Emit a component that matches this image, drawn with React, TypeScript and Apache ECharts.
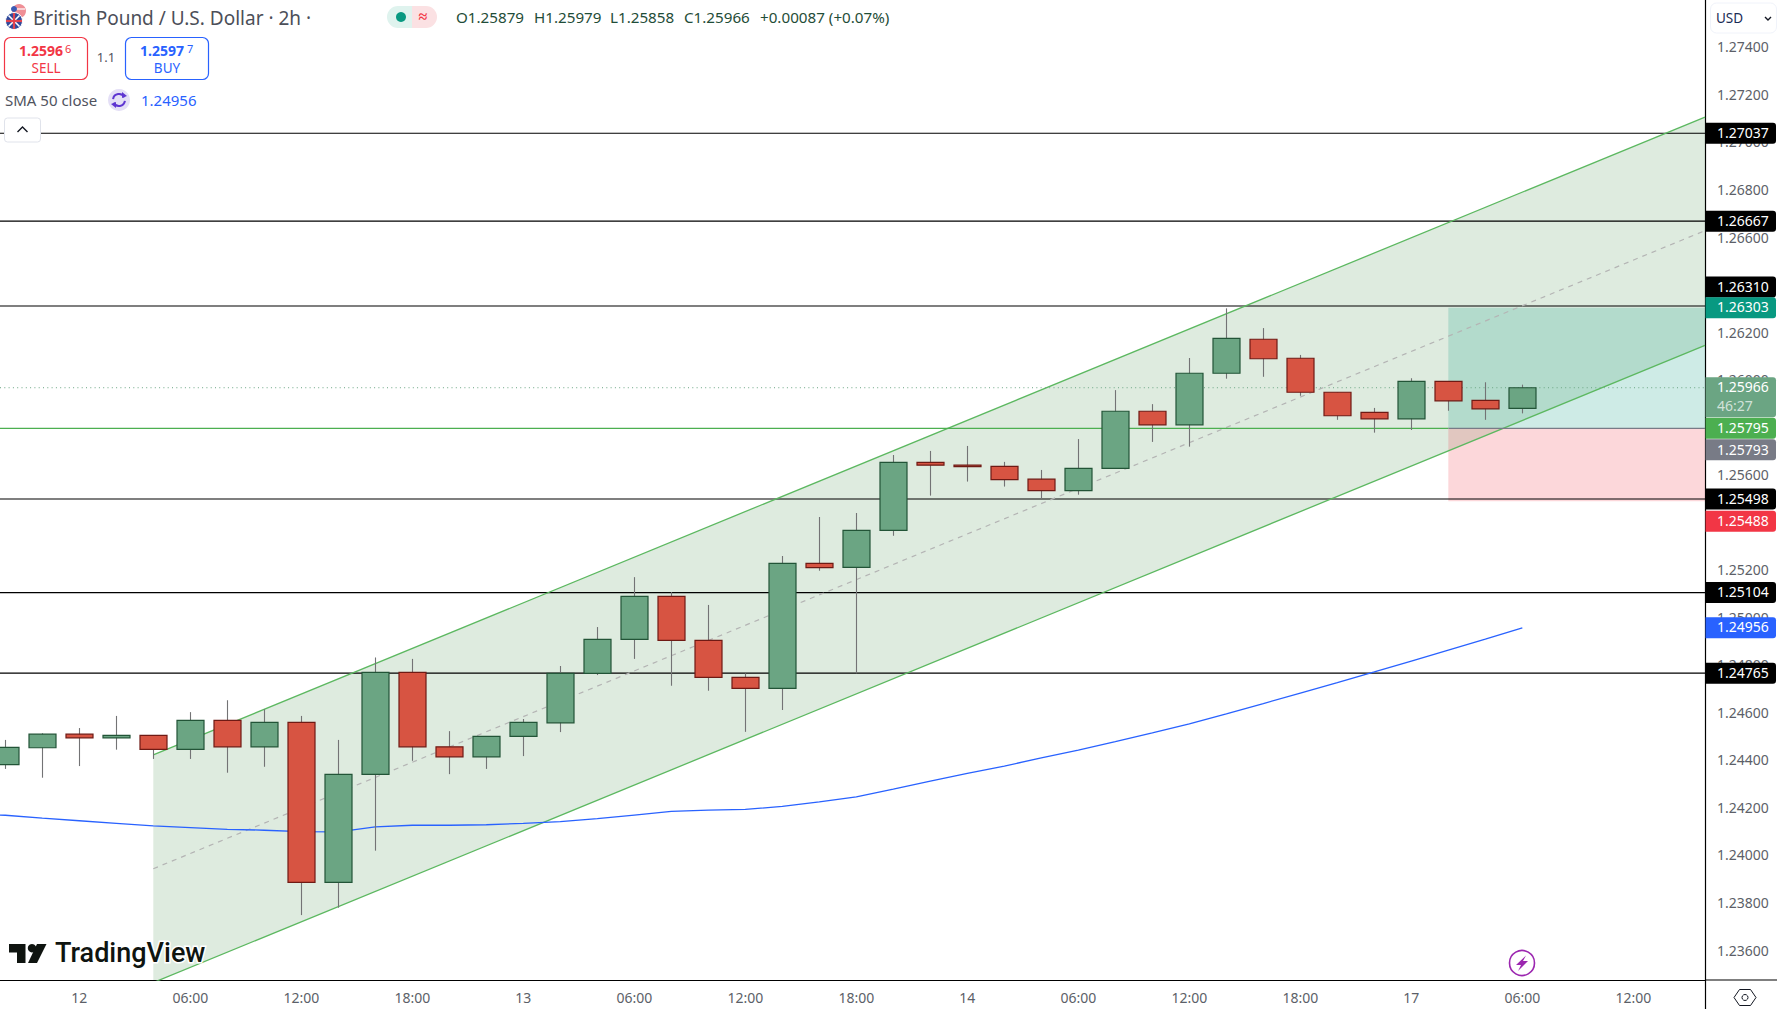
import React, { useEffect, useRef } from "react";
import * as echarts from "echarts";

// ---------- data ----------
const opens = [1.2438,1.24451,1.24508,1.24493,1.24503,1.24444,1.24566,1.24455,1.24558,1.23885,1.24339,1.24768,1.24455,1.24413,1.24499,1.24556,1.24764,1.24907,1.25088,1.24903,1.24747,1.24701,1.25227,1.2521,1.25366,1.25652,1.2564,1.25635,1.25581,1.25533,1.25627,1.25867,1.2581,1.26027,1.2617,1.2609,1.25947,1.25862,1.25835,1.25993,1.25913,1.25879];
const closes = [1.24453,1.24508,1.24493,1.24503,1.24444,1.24566,1.24455,1.24558,1.23885,1.24339,1.24768,1.24455,1.24413,1.24499,1.24558,1.24764,1.24907,1.25088,1.24903,1.24747,1.24701,1.25227,1.25209,1.25366,1.25652,1.2564,1.25634,1.25579,1.25533,1.25627,1.25867,1.2581,1.26027,1.26174,1.26088,1.25947,1.25848,1.25835,1.25993,1.25911,1.25877,1.25966];
const lows = [1.24362,1.24325,1.24374,1.24443,1.24404,1.24404,1.24346,1.24371,1.23747,1.23778,1.24018,1.24396,1.2434,1.24362,1.24416,1.24517,1.24757,1.24825,1.24712,1.24691,1.24518,1.2461,1.25196,1.24764,1.25343,1.25512,1.25571,1.2555,1.25497,1.25516,1.25627,1.25738,1.25718,1.26004,1.26012,1.25932,1.25831,1.25777,1.25788,1.25869,1.25831,1.25858];
const highs = [1.24484,1.24512,1.24534,1.24585,1.24504,1.24601,1.24651,1.24613,1.24585,1.24484,1.24831,1.24825,1.24521,1.245,1.24572,1.24795,1.24959,1.25169,1.25106,1.25052,1.24764,1.25258,1.25422,1.25439,1.25683,1.257,1.25721,1.25654,1.2562,1.2575,1.25956,1.25897,1.26091,1.263,1.26217,1.26104,1.25947,1.25881,1.26006,1.25993,1.25989,1.25979];
// SMA 50: first value belongs to the bar before the first visible one
const smaValues = [1.2417,1.24167,1.24155,1.24144,1.24133,1.24122,1.24115,1.24108,1.24104,1.24098,1.24097,1.24118,1.24125,1.24125,1.24127,1.24133,1.2414,1.24153,1.24168,1.24183,1.24189,1.24192,1.24204,1.24223,1.24244,1.24277,1.24311,1.24343,1.24374,1.24408,1.24441,1.24477,1.24514,1.24552,1.24594,1.24637,1.24681,1.24725,1.2477,1.24816,1.24862,1.24908,1.24956];
const levels = [1.27037,1.26667,1.2631,1.25498,1.25104,1.24765];
const channelXs = [4, 45.937];
const channelUpper = [1.24421,1.27105];
const channelMiddle = [1.23942,1.26627];
const channelLower = [1.23463,1.26144];
const positionX = 39;
const positionTarget = 1.26303;
const positionEntry = 1.25795;
const positionStop = 1.25488;
const lastPrice = 1.25966;
const yTicks = [1.236,1.238,1.24,1.242,1.244,1.246,1.248,1.25,1.252,1.254,1.256,1.258,1.26,1.262,1.264,1.266,1.268,1.27,1.272,1.274];
const xTickIndex = [2,5,8,11,14,17,20,23,26,29,32,35,38,41,44];
const xTickText = ["12","06:00","12:00","18:00","13","06:00","12:00","18:00","14","06:00","12:00","18:00","17","06:00","12:00"];
const tagValues = [1.27037,1.26667,1.2631,1.26303,1.25966,1.25795,1.25793,1.25498,1.25488,1.25104,1.24956,1.24765];
const ohlcTexts = ["O1.25879","H1.25979","L1.25858","C1.25966","+0.00087 (+0.07%)"];

// ---------- styles ----------
const FONT = "'Noto Sans'";
const UP = "#6ba583", UP_B = "#225437", DOWN = "#d75442", DOWN_B = "#6f1a14", WICK = "#737375";
const tagColors = ["#000","#000","#000","#089981","#6ba583","#4caf50","#787b86","#000","#f23645","#000","#2962ff","#000"];
const tagNudge = [0,0,-19,0,0,0,21,0,20,0,0,0];
const ohlcLeft = [456, 534, 610, 684, 760];
const xMin = -0.1432, xMax = 45.937, yMin = 1.234738, yMax = 1.275975;

const hline = (name: string, v: number, color: string, from = xMin, to = xMax, extra: any = {}, z = 3) => ({
  type: "line", name, silent: true, symbol: "none", showSymbol: false, z,
  data: [[from, v], [to, v]],
  lineStyle: { color, width: 1.1, ...extra },
  emphasis: { disabled: true },
});
const slant = (name: string, ys: number[], color: string, extra: any = {}) => ({
  type: "line", name, silent: true, symbol: "none", showSymbol: false, z: 3,
  data: channelXs.map((x, i) => [x, ys[i]]),
  lineStyle: { color, width: 1.3, ...extra },
  emphasis: { disabled: true },
});

const txt = (text: string, x: number, y: number, font: string, fill: string, align = "left", extra: any = {}) => ({
  type: "text", x, y, z: 100, silent: true,
  style: { text, font, fill, align, verticalAlign: "middle", ...extra },
});

function buildOption() {
  const candleData = opens.map((o, i) => [i, o, closes[i], lows[i], highs[i]]);
  const graphicEls: any[] = [
    // extended axis frame
    { type: "line", z: 100, silent: true, shape: { x1: 1705, y1: 980, x2: 1777, y2: 980 }, style: { stroke: "#000", lineWidth: 1.2 } },
    { type: "line", z: 100, silent: true, shape: { x1: 1705.5, y1: 980, x2: 1705.5, y2: 1009 }, style: { stroke: "#000", lineWidth: 1.2 } },
    // flag
    { type: "circle", z: 100, silent: true, shape: { cx: 19, cy: 11, r: 7 }, style: { fill: "#ef8f96" } },
    { type: "line", z: 100, silent: true, shape: { x1: 15, y1: 9, x2: 25, y2: 9 }, style: { stroke: "#fff", lineWidth: 1.2 } },
    { type: "circle", z: 100, silent: true, shape: { cx: 14, cy: 9, r: 3 }, style: { fill: "#3b5bb5" } },
    { type: "circle", z: 100, silent: true, shape: { cx: 14, cy: 21, r: 8.5 }, style: { fill: "#2f4a9c", stroke: "#fff", lineWidth: 1 } },
    { type: "line", z: 100, silent: true, shape: { x1: 8.5, y1: 15.5, x2: 19.5, y2: 26.5 }, style: { stroke: "#fff", lineWidth: 1.6 } },
    { type: "line", z: 100, silent: true, shape: { x1: 19.5, y1: 15.5, x2: 8.5, y2: 26.5 }, style: { stroke: "#fff", lineWidth: 1.6 } },
    { type: "line", z: 100, silent: true, shape: { x1: 14, y1: 13, x2: 14, y2: 29 }, style: { stroke: "#e2434f", lineWidth: 2.2 } },
    { type: "line", z: 100, silent: true, shape: { x1: 6, y1: 21, x2: 22, y2: 21 }, style: { stroke: "#e2434f", lineWidth: 2.2 } },
    txt("British Pound / U.S. Dollar · 2h ·", 33, 17.5, `19px ${FONT}`, "#4c4f59"),
    // status pill
    { type: "rect", z: 100, silent: true, shape: { x: 387, y: 6, width: 28, height: 22, r: [11, 0, 0, 11] }, style: { fill: "#dff3ee" } },
    { type: "rect", z: 100, silent: true, shape: { x: 412, y: 6, width: 25, height: 22, r: [0, 11, 11, 0] }, style: { fill: "#fbe1e3" } },
    { type: "circle", z: 101, silent: true, shape: { cx: 401, cy: 17, r: 5 }, style: { fill: "#089981" } },
    txt("≈", 423, 16, `bold 16px ${FONT}`, "#f23645", "center"),
    ...ohlcTexts.map((t, i) => txt(t, ohlcLeft[i], 17, `15.2px ${FONT}`, "#1f4d38")),
    // sell / buy
    { type: "rect", z: 100, silent: true, shape: { x: 4.5, y: 37.5, width: 83, height: 42, r: 6 }, style: { fill: "#fff", stroke: "#f23645", lineWidth: 1.2 } },
    txt("1.2596", 19, 50.5, `bold 14px ${FONT}`, "#f23645"),
    txt("6", 65, 48, `11px ${FONT}`, "#f23645"),
    txt("SELL", 46, 67.5, `13.5px ${FONT}`, "#f23645", "center"),
    txt("1.1", 106, 57, `13px ${FONT}`, "#50535e", "center"),
    { type: "rect", z: 100, silent: true, shape: { x: 125.5, y: 37.5, width: 83, height: 42, r: 6 }, style: { fill: "#fff", stroke: "#2962ff", lineWidth: 1.2 } },
    txt("1.2597", 140, 50.5, `bold 14px ${FONT}`, "#2962ff"),
    txt("7", 187, 48, `11px ${FONT}`, "#2962ff"),
    txt("BUY", 167, 67.5, `13.5px ${FONT}`, "#2962ff", "center"),
    // SMA legend
    txt("SMA 50 close", 5, 99.5, `15px ${FONT}`, "#50535e"),
    { type: "circle", z: 100, silent: true, shape: { cx: 119, cy: 100, r: 11 }, style: { fill: "#e4dff6" } },
    { type: "arc", z: 101, silent: true, shape: { cx: 119, cy: 100, r: 6, startAngle: Math.PI * 1.05, endAngle: Math.PI * 1.85 }, style: { stroke: "#5e35d1", lineWidth: 2, fill: "none" } },
    { type: "arc", z: 101, silent: true, shape: { cx: 119, cy: 100, r: 6, startAngle: Math.PI * 0.05, endAngle: Math.PI * 0.85 }, style: { stroke: "#5e35d1", lineWidth: 2, fill: "none" } },
    { type: "polygon", z: 101, silent: true, shape: { points: [[122, 92], [127, 96], [122, 98]] }, style: { fill: "#5e35d1" } },
    { type: "polygon", z: 101, silent: true, shape: { points: [[116, 108], [111, 104], [116, 102]] }, style: { fill: "#5e35d1" } },
    txt("1.24956", 141, 99.5, `15px ${FONT}`, "#2962ff"),
    // collapse button
    { type: "rect", z: 100, silent: true, shape: { x: 4.5, y: 118, width: 36, height: 24, r: 3 }, style: { fill: "#fff", stroke: "#e0e3eb", lineWidth: 1 } },
    { type: "polyline", z: 101, silent: true, shape: { points: [[17.5, 132], [22.5, 127], [27.5, 132]] }, style: { stroke: "#131722", lineWidth: 1.4, fill: "none" } },
    // logo
    { type: "polygon", z: 100, silent: true, shape: { points: [[9, 944], [25.5, 944], [25.5, 963], [17, 963], [17, 952.5], [9, 952.5]] }, style: { fill: "#0f1410" } },
    { type: "circle", z: 100, silent: true, shape: { cx: 32, cy: 948.2, r: 4.2 }, style: { fill: "#0f1410" } },
    { type: "polygon", z: 100, silent: true, shape: { points: [[37, 944], [46.5, 944], [37, 963], [28, 963]] }, style: { fill: "#0f1410" } },
    txt("TradingView", 55, 953, `500 27px Roboto`, "#0f1410", "left", { stroke: "#fff", lineWidth: 3 }),
    // lightning
    { type: "circle", z: 100, silent: true, shape: { cx: 1522, cy: 963, r: 12.5 }, style: { fill: "#fff", stroke: "#9c27b0", lineWidth: 1.6 } },
    { type: "polygon", z: 101, silent: true, shape: { points: [[1526, 955.5], [1516, 965], [1521, 965], [1518, 971], [1528, 961], [1523, 961]] }, style: { fill: "#9c27b0" } },
    // settings hexagon
    { type: "polygon", z: 100, silent: true, shape: { points: [[1734, 997.5], [1739.5, 989.5], [1750.5, 989.5], [1756, 997.5], [1750.5, 1005.5], [1739.5, 1005.5]] }, style: { fill: "#fff", stroke: "#131722", lineWidth: 1 } },
    { type: "circle", z: 101, silent: true, shape: { cx: 1745, cy: 997.5, r: 3 }, style: { fill: "#fff", stroke: "#131722", lineWidth: 1 } },
    // currency button
    { type: "rect", z: 100, silent: true, shape: { x: 1710.5, y: 3, width: 66, height: 30, r: 6 }, style: { fill: "#fff", stroke: "#f0f3fa", lineWidth: 1 } },
    txt("USD", 1716, 18, `13.5px ${FONT}`, "#1a2b55"),
    { type: "polyline", z: 101, silent: true, shape: { points: [[1765, 17], [1768, 20], [1771, 17]] }, style: { stroke: "#131722", lineWidth: 1.4, fill: "none" } },
  ];

  return {
    animation: false,
    backgroundColor: "#fff",
    tooltip: { show: false },
    grid: { left: 0, right: 72, top: 0, bottom: 29, containLabel: false },
    xAxis: {
      type: "value", min: xMin, max: xMax,
      splitLine: { show: false },
      axisTick: { show: false },
      axisLine: { show: true, onZero: false, lineStyle: { color: "#000", width: 1.2 } },
      axisLabel: {
        customValues: xTickIndex,
        formatter: (v: number) => xTickText[xTickIndex.indexOf(Math.round(v))] ?? "",
        color: "#5c5f68", fontFamily: "Noto Sans", fontSize: 14, margin: 10,
      },
    },
    yAxis: {
      type: "value", position: "right", min: yMin, max: yMax,
      splitLine: { show: false },
      axisTick: { show: false },
      axisLine: { show: true, onZero: false, lineStyle: { color: "#000", width: 1.2 } },
      axisLabel: {
        customValues: yTicks,
        formatter: (v: number) => v.toFixed(5),
        color: "#5c5f68", fontFamily: "Noto Sans", fontSize: 14, margin: 12, padding: [0, 0, 2, 0],
      },
    },
    graphic: { elements: graphicEls },
    series: [
      {
        type: "custom", name: "Channel fill", silent: true, clip: true, z: 1, data: [[channelXs[0], channelLower[0]]],
        renderItem: (_p: any, api: any) => ({
          type: "polygon",
          shape: {
            points: [
              api.coord([channelXs[0], channelUpper[0]]),
              api.coord([channelXs[1], channelUpper[1]]),
              api.coord([channelXs[1], channelLower[1]]),
              api.coord([channelXs[0], channelLower[0]]),
            ],
          },
          style: { fill: "rgba(72,144,77,0.18)" },
        }),
      },
      {
        type: "custom", name: "Position", silent: true, clip: true, z: 1, data: [[positionX, positionEntry]],
        renderItem: (_p: any, api: any) => {
          const a = api.coord([positionX, positionTarget]);
          const b = api.coord([xMax, positionEntry]);
          const c = api.coord([xMax, positionStop]);
          return {
            type: "group",
            children: [
              { type: "rect", shape: { x: a[0], y: a[1], width: b[0] - a[0], height: b[1] - a[1] }, style: { fill: "rgba(8,153,129,0.2)" } },
              { type: "rect", shape: { x: a[0], y: b[1], width: b[0] - a[0], height: c[1] - b[1] }, style: { fill: "rgba(242,54,69,0.2)" } },
            ],
          };
        },
      },
      ...levels.map((v) => hline(`Level ${v}`, v, "#000")),
      slant("Channel upper", channelUpper, "#5cb860"),
      slant("Channel middle", channelMiddle, "#b4b4b4", { type: [5, 5], width: 1.2 }),
      slant("Channel lower", channelLower, "#5cb860"),
      hline("Entry", positionEntry, "#4caf50", xMin, positionX),
      hline("Entry right", positionEntry, "#787b86", positionX, xMax),
      hline("Last price", lastPrice, "#6ba583", xMin, xMax, { type: [1, 3.3], width: 1 }),
      {
        type: "line", name: "SMA 50", silent: true, symbol: "none", showSymbol: false, z: 3,
        data: smaValues.map((v, i) => [i - 1, v]),
        lineStyle: { color: "#2962ff", width: 1.3 },
        emphasis: { disabled: true },
      },
      {
        type: "custom", name: "GBPUSD", silent: true, clip: true, z: 5,
        encode: { x: 0, y: [1, 2, 3, 4] },
        data: candleData,
        renderItem: (_p: any, api: any) => {
          const i = api.value(0), o = api.value(1), c = api.value(2), l = api.value(3), h = api.value(4);
          const cx = Math.round(api.coord([i, o])[0]) + 0.5;
          const yo = api.coord([i, o])[1], yc = api.coord([i, c])[1], yl = api.coord([i, l])[1], yh = api.coord([i, h])[1];
          const up = c >= o;
          const top = Math.min(yo, yc), hgt = Math.max(Math.abs(yo - yc), 1);
          return {
            type: "group",
            children: [
              { type: "line", shape: { x1: cx, y1: yh, x2: cx, y2: yl }, style: { stroke: WICK, lineWidth: 1.1 } },
              { type: "rect", shape: { x: cx - 13.5, y: top, width: 27, height: hgt }, style: { fill: up ? UP : DOWN, stroke: up ? UP_B : DOWN_B, lineWidth: 1.2 } },
            ],
          };
        },
      },
      {
        type: "custom", name: "Price tags", silent: true, clip: false, z: 20,
        encode: { y: 0 },
        data: tagValues.map((v, i) => [v, i]),
        renderItem: (_p: any, api: any) => {
          const v = api.value(0), i = api.value(1);
          const y = api.coord([xMax, v])[1] + tagNudge[i];
          const x = api.coord([xMax, v])[0] + 0.5;
          const two = v === lastPrice;
          const children: any[] = [
            { type: "rect", shape: { x, y: y - 10.5, width: 70.5, height: two ? 40 : 21, r: [0, 3, 3, 0] }, style: { fill: tagColors[i] } },
            { type: "text", x: 1717, y: y - 0.8, style: { text: v.toFixed(5), font: `14px ${FONT}`, fill: "#fff", align: "left", verticalAlign: "middle" } },
          ];
          if (two) children.push({ type: "text", x: 1717, y: y + 17.7, style: { text: "46:27", font: `14px ${FONT}`, fill: "rgba(255,255,255,0.7)", align: "left", verticalAlign: "middle" } });
          return { type: "group", children };
        },
      },
    ],
  };
}

export default function App() {
  const ref = useRef<HTMLDivElement>(null);
  useEffect(() => {
    document.body.style.margin = "0";
    const chart = echarts.init(ref.current as HTMLDivElement, undefined, { renderer: "svg", width: 1777, height: 1009 });
    chart.setOption(buildOption() as any);
    return () => chart.dispose();
  }, []);
  return <div ref={ref} style={{ position: "fixed", left: 0, top: 0, width: 1777, height: 1009, background: "#fff" }} />;
}
